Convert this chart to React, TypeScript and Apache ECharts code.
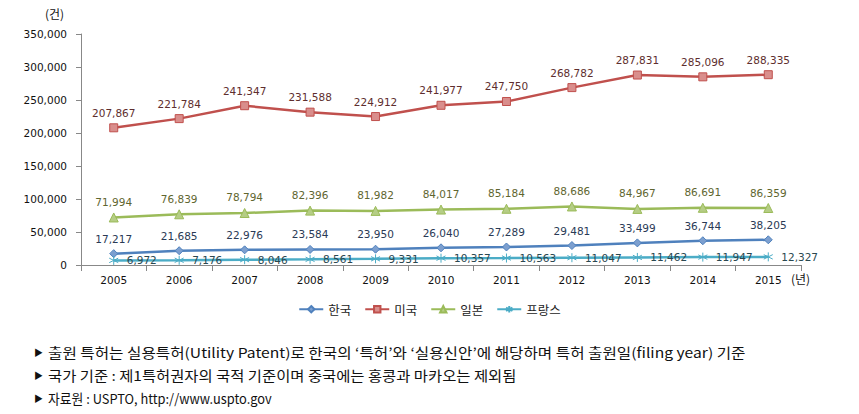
import React, { useEffect, useRef } from "react";
import * as echarts from "echarts";

const years = ["2005", "2006", "2007", "2008", "2009", "2010", "2011", "2012", "2013", "2014", "2015"];
const korea = [17217, 21685, 22976, 23584, 23950, 26040, 27289, 29481, 33499, 36744, 38205];
const usa = [207867, 221784, 241347, 231588, 224912, 241977, 247750, 268782, 287831, 285096, 288335];
const japan = [71994, 76839, 78794, 82396, 81982, 84017, 85184, 88686, 84967, 86691, 86359];
const france = [6972, 7176, 8046, 8561, 9331, 10357, 10563, 11047, 11462, 11947, 12327];
const seriesNames = ["한국", "미국", "일본", "프랑스"];
const notes = [
  "출원 특허는 실용특허(Utility Patent)로 한국의 ‘특허’와 ‘실용신안’에 해당하며 특허 출원일(filing year) 기준",
  "국가 기준 : 제1특허권자의 국적 기준이며 중국에는 홍콩과 마카오는 제외됨",
  "자료원 : USPTO, http://www.uspto.gov",
];
const noteScale = [1.16, 1.14, 0.95];

const NUM_FONT = "DejaVu Sans";
const KR_FONT = "Noto Sans CJK KR";
const fmt = (v: number) => v.toLocaleString("en-US");
const asterisk = "path://M5,0L5,10M0.7,2.5L9.3,7.5M0.7,7.5L9.3,2.5";

export default function App() {
  const ref = useRef<HTMLDivElement>(null);
  useEffect(() => {
    const chart = echarts.init(ref.current!, null, { renderer: "svg" });
    const mk = (name: string, data: number[], color: string, fill: string, symbol: string, labelColor: string, size: number, pos: string = "top") => ({
      name,
      type: "line",
      data,
      symbol,
      symbolSize: size,
      lineStyle: { color, width: 2.5 },
      itemStyle: { color: fill, borderColor: color, borderWidth: 1 },
      label: {
        show: true,
        position: pos,
        distance: pos === "top" ? 5 : 8,
        formatter: (p: any) => fmt(p.value),
        color: labelColor,
        fontFamily: NUM_FONT,
        fontSize: 10.5,
      },
      z: 3,
    });
    chart.setOption({
      animation: false,
      grid: { left: 81, right: 58, top: 34, bottom: 149 },
      legend: {
        data: seriesNames,
        left: "center",
        top: 298,
        itemWidth: 24,
        itemHeight: 8,
        itemGap: 13,
        textStyle: { fontFamily: KR_FONT, fontSize: 12.5, color: "#222" },
      },
      xAxis: {
        type: "category",
        data: years,
        boundaryGap: true,
        axisLine: { lineStyle: { color: "#888", width: 1 } },
        axisTick: { show: true, length: 6, lineStyle: { color: "#888" } },
        axisLabel: { color: "#111", fontFamily: NUM_FONT, fontSize: 10.5, margin: 9 },
      },
      yAxis: {
        type: "value",
        min: 0,
        max: 350000,
        interval: 50000,
        axisLine: { show: true, lineStyle: { color: "#888", width: 1 } },
        axisTick: { show: true, length: 5, inside: false, lineStyle: { color: "#888" } },
        splitLine: { show: false },
        axisLabel: { color: "#111", fontFamily: NUM_FONT, fontSize: 10.5, margin: 14, formatter: (v: number) => fmt(v) },
      },
      series: [
        mk("한국", korea, "#4F81BD", "#7C9FCF", "diamond", "#2A3A55", 8),
        mk("미국", usa, "#C0504D", "#D98E8C", "rect", "#5E2E2E", 8),
        mk("일본", japan, "#9BBB59", "#B5CD85", "triangle", "#5F6630", 9),
        mk("프랑스", france, "#4BACC6", "#4BACC6", asterisk, "#2A4850", 9, "right"),
      ],
      graphic: [
        { type: "text", left: 45, top: 7, style: { text: "(건)", font: `12px "${KR_FONT}"`, fill: "#111" } },
        { type: "text", left: 791, top: 272, style: { text: "(년)", font: `12px "${KR_FONT}"`, fill: "#111" } },
        ...notes.flatMap((t, i) => [
          { type: "text", x: 34, y: 352 + i * 23, style: { text: "▶", font: `9px "${KR_FONT}"`, fill: "#111", verticalAlign: "middle" } },
          { type: "text", x: 48, y: 352 + i * 23, scaleX: noteScale[i], style: { text: t, font: `13.5px "${KR_FONT}"`, fill: "#111", verticalAlign: "middle" } },
        ]),
      ],
    });
    return () => chart.dispose();
  }, []);
  return <div ref={ref} style={{ width: 859, height: 414, position: "absolute", left: 0, top: 0 }} />;
}
